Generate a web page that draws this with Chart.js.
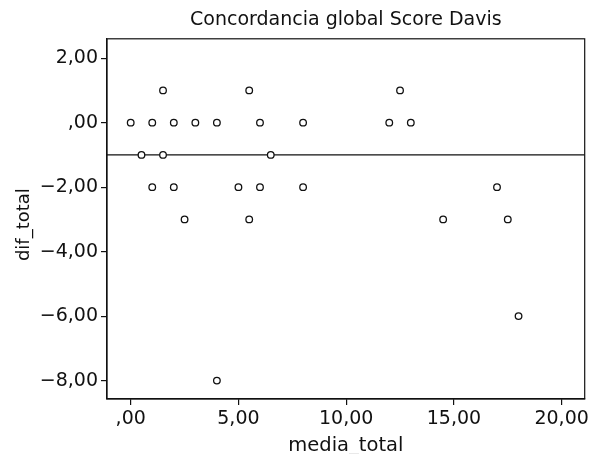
<!DOCTYPE html>
<html>
<head>
<meta charset="utf-8">
<script src="https://cdn.jsdelivr.net/npm/chart.js@4/dist/chart.umd.min.js"></script>
<style>
  html, body { margin: 0; padding: 0; background: #fff; }
  #wrap { width: 590px; height: 454px; }
</style>
</head>
<body>
<div id="wrap"><canvas id="davisChart"></canvas></div>
<script>
    // media_total (x) and dif_total (y)
    const mediaTotal = [0, 1, 2, 3, 4, 6, 8, 12, 13,
                        1.5, 5.5, 12.5,
                        0.5, 1.5, 6.5,
                        1, 2, 5, 6, 8, 17,
                        2.5, 5.5, 14.5, 17.5,
                        18, 4];
    const difTotal = [0, 0, 0, 0, 0, 0, 0, 0, 0,
                      1, 1, 1,
                      -1, -1, -1,
                      -2, -2, -2, -2, -2, -2,
                      -3, -3, -3, -3,
                      -6, -8];
    const meanDiff = -1;
    const xTicks = [0, 5, 10, 15, 20];
    const yTicks = [-8, -6, -4, -2, 0, 2];

    const xMin = -1.1, xMax = 21.07;
    const yMin = -8.57, yMax = 2.6;

    const fontFamily = '"DejaVu Sans", "Liberation Sans", sans-serif';
    const ink = '#111';

    // SPSS style numbers: ",00", "2,00", "−2,00"
    function spssLabel(v) {
        if (v === 0) return ',00';
        const s = Math.abs(v).toFixed(2).replace('.', ',');
        return (v < 0 ? '\u2212' : '') + s;
    }

    // box around the plot area
    const frame = {
        id: 'frame',
        afterDraw(chart) {
            const a = chart.chartArea, ctx = chart.ctx;
            ctx.save();
            ctx.strokeStyle = ink;
            ctx.lineWidth = 1.2;
            ctx.strokeRect(a.left, a.top, a.right - a.left, a.bottom - a.top);
            ctx.restore();
        }
    };

    const points = mediaTotal.map((x, i) => ({ x: x, y: difTotal[i] }));

    new Chart(document.getElementById('davisChart').getContext('2d'), {
        type: 'scatter',
        data: {
            datasets: [{
                label: 'dif_total',
                data: points,
                pointStyle: 'circle',
                pointRadius: 3.3,
                pointBorderWidth: 1.3,
                pointBorderColor: ink,
                pointBackgroundColor: '#fff',
                showLine: false
            }, {
                type: 'line',
                label: 'media',
                data: [{ x: xMin, y: meanDiff }, { x: xMax, y: meanDiff }],
                borderColor: ink,
                borderWidth: 1.2,
                pointRadius: 0
            }]
        },
        plugins: [frame],
        options: {
            responsive: true,
            maintainAspectRatio: false,
            animation: false,
            layout: { padding: { left: 0, right: 3, top: 0, bottom: 0 } },
            plugins: {
                legend: { display: false },
                tooltip: { enabled: false },
                title: {
                    display: true,
                    fullSize: false, // centre over the plot box, not the canvas
                    text: 'Concordancia global Score Davis',
                    color: ink,
                    font: { family: fontFamily, size: 19, weight: 'normal', lineHeight: 1.2 },
                    padding: { top: 9, bottom: 7 }
                }
            },
            scales: {
                x: {
                    type: 'linear',
                    min: xMin,
                    max: xMax,
                    afterBuildTicks: s => { s.ticks = xTicks.map(v => ({ value: v })); },
                    afterFit: s => { s.height = 55; s.paddingLeft = 0; s.paddingRight = 0; },
                    grid: { drawOnChartArea: false, tickLength: 6, color: ink, lineWidth: 1.2 },
                    border: { color: ink, width: 1.2 },
                    ticks: {
                        color: ink,
                        padding: 3,
                        maxRotation: 0,
                        font: { family: fontFamily, size: 19 },
                        callback: v => spssLabel(v)
                    },
                    title: {
                        display: true,
                        text: 'media_total',
                        color: ink,
                        font: { family: fontFamily, size: 19.5, lineHeight: 0.8 },
                        padding: { top: 0, bottom: 0 }
                    }
                },
                y: {
                    type: 'linear',
                    min: yMin,
                    max: yMax,
                    afterBuildTicks: s => { s.ticks = yTicks.map(v => ({ value: v })); },
                    afterFit: s => { s.width = 107; s.paddingTop = 0; s.paddingBottom = 0; },
                    grid: { drawOnChartArea: false, tickLength: 6, color: ink, lineWidth: 1.2 },
                    border: { color: ink, width: 1.2 },
                    ticks: {
                        color: ink,
                        padding: 3,
                        font: { family: fontFamily, size: 19 },
                        callback: v => spssLabel(v)
                    },
                    title: {
                        display: true,
                        text: 'dif_total  ',
                        color: ink,
                        font: { family: fontFamily, size: 18, lineHeight: 1.2 },
                        padding: { top: 14, bottom: 0 }
                    }
                }
            }
        }
    });
</script>
</body>
</html>
